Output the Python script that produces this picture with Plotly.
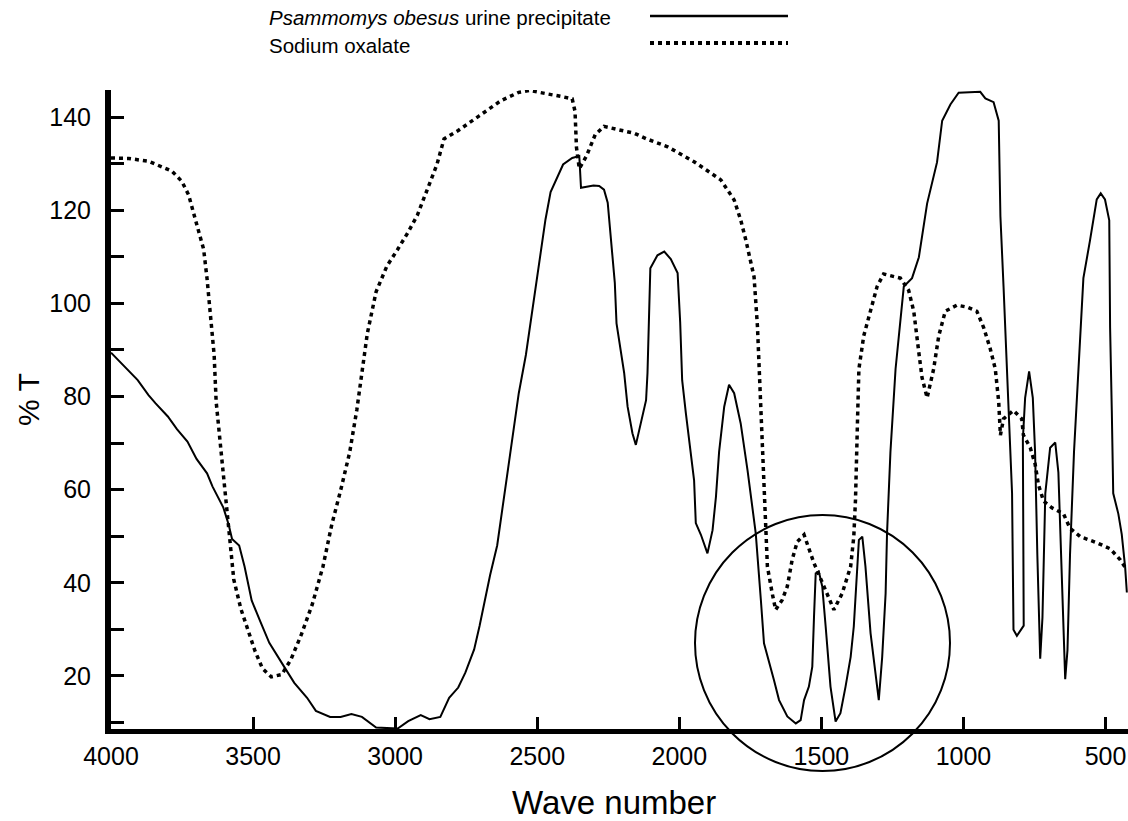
import plotly.graph_objects as go

# ---------------- data ----------------
psammomys_wn = [4000, 3956, 3906, 3868, 3843, 3800, 3768, 3731, 3699, 3662, 3643, 3605, 3586, 3574,
                3549, 3530, 3505, 3474, 3443, 3392, 3355, 3310, 3279, 3229, 3192, 3154, 3117, 3067,
                2991, 2954, 2910, 2879, 2841, 2810, 2778, 2753, 2722, 2703, 2666, 2641, 2616, 2591,
                2565, 2540, 2515, 2496, 2471, 2453, 2409, 2377, 2352, 2346, 2302, 2282, 2265, 2252,
                2240, 2227, 2221, 2194, 2182, 2165, 2153, 2141, 2129, 2117, 2112, 2102, 2077, 2053,
                2030, 2006, 1997, 1990, 1977, 1948, 1942, 1924, 1901, 1883, 1871, 1860, 1842, 1825,
                1807, 1784, 1760, 1743, 1731, 1713, 1702, 1667, 1649, 1620, 1590, 1573, 1561, 1544,
                1532, 1526, 1520, 1509, 1497, 1485, 1468, 1450, 1433, 1415, 1397, 1386, 1374, 1368,
                1356, 1345, 1327, 1309, 1298, 1286, 1274, 1269, 1257, 1239, 1210, 1181, 1157, 1128,
                1093, 1075, 1046, 1017, 941, 923, 894, 876, 870, 859, 841, 829, 824, 812,
                788, 792, 791, 783, 769, 756, 748, 740, 730, 722, 712, 695, 677, 666,
                654, 642, 634, 625, 611, 596, 578, 555, 531, 517, 502, 487, 484, 478,
                473, 455, 443, 431, 425]
psammomys_t = [89.4, 86.6, 83.5, 80.3, 78.5, 75.7, 73.0, 70.3, 66.6, 63.5, 60.7, 56.2, 52.5, 49.4,
               48.0, 43.5, 36.2, 31.6, 27.1, 22.1, 18.5, 15.3, 12.5, 11.2, 11.2, 11.8, 11.2, 8.9,
               8.7, 10.3, 11.6, 10.7, 11.2, 15.3, 17.5, 20.7, 25.7, 30.7, 41.6, 48.0, 58.9, 68.9,
               80.7, 88.9, 99.8, 107.1, 118.0, 123.9, 129.8, 131.2, 131.6, 124.8, 125.3, 125.2, 124.4, 121.6,
               113.0, 104.4, 95.7, 85.0, 77.8, 72.1, 69.6, 72.8, 76.4, 79.2, 85.0, 107.5, 110.3, 111.1,
               109.5, 106.5, 96.0, 83.5, 76.4, 62.0, 52.8, 50.3, 46.3, 51.3, 58.5, 68.1, 77.8, 82.5,
               80.7, 74.2, 64.2, 56.3, 50.6, 36.3, 27.0, 19.1, 14.8, 11.3, 9.8, 10.5, 14.8, 17.7,
               22.0, 32.7, 42.0, 42.4, 39.2, 30.6, 17.7, 10.2, 12.0, 17.7, 24.1, 30.6, 44.9, 49.2,
               49.9, 43.5, 29.2, 19.9, 14.8, 24.1, 37.7, 50.6, 68.1, 85.9, 103.6, 105.4, 109.9, 121.4,
               130.3, 139.2, 142.7, 145.2, 145.4, 144.0, 143.2, 139.2, 118.7, 103.6, 77.0, 59.2, 29.9, 28.6,
               30.8, 59.2, 70.8, 79.7, 85.4, 79.7, 68.1, 45.9, 23.7, 32.6, 59.2, 69.0, 70.1, 63.7,
               41.5, 19.3, 25.5, 46.1, 68.1, 85.9, 105.4, 113.4, 122.3, 123.6, 122.3, 117.8, 94.8, 77.0,
               59.2, 54.8, 50.4, 43.3, 37.9]

oxalate_wn = [4000, 3938, 3868, 3786, 3751, 3727, 3704, 3674, 3662, 3649, 3637, 3630, 3618, 3605,
              3593, 3580, 3568, 3543, 3518, 3493, 3467, 3436, 3399, 3367, 3330, 3292, 3254, 3223,
              3192, 3160, 3135, 3117, 3098, 3067, 3029, 2991, 2954, 2922, 2891, 2853, 2828, 2778,
              2703, 2628, 2565, 2528, 2415, 2377, 2367, 2362, 2352, 2327, 2296, 2265, 2202, 2158,
              2115, 2041, 1948, 1854, 1807, 1784, 1766, 1749, 1737, 1725, 1712, 1702, 1696, 1690,
              1673, 1661, 1638, 1620, 1603, 1585, 1561, 1526, 1491, 1456, 1427, 1397, 1386, 1380,
              1372, 1368, 1351, 1327, 1304, 1281, 1222, 1193, 1175, 1157, 1146, 1128, 1105, 1087,
              1064, 1023, 988, 953, 929, 906, 888, 876, 870, 859, 824, 795, 789, 765,
              748, 736, 718, 689, 648, 625, 589, 531, 484, 449, 431]
oxalate_t = [131.2, 131.1, 130.5, 128.4, 126.2, 123.3, 118.2, 111.6, 105.3, 97.1, 88.9, 78.9, 70.7, 63.5,
             56.2, 48.0, 40.7, 34.4, 29.8, 25.3, 21.6, 19.8, 20.3, 23.5, 28.9, 35.3, 43.5, 52.5,
             59.8, 68.0, 77.1, 85.3, 93.5, 102.5, 108.0, 111.6, 115.3, 118.9, 123.9, 129.8, 135.3, 137.1,
             140.3, 143.5, 145.3, 145.7, 144.4, 143.9, 141.2, 133.5, 128.9, 131.6, 136.2, 138.0, 137.1, 136.5,
             135.3, 133.6, 130.4, 126.5, 122.2, 117.9, 113.6, 108.6, 105.7, 95.0, 75.0, 57.8, 51.3, 43.5,
             37.7, 34.2, 36.3, 39.2, 44.9, 48.8, 50.3, 44.2, 39.2, 34.2, 37.7, 43.5, 49.9, 57.8,
             77.0, 85.9, 93.0, 98.3, 103.6, 106.3, 105.4, 102.8, 98.3, 89.4, 84.1, 79.7, 85.9, 93.0,
             98.3, 99.6, 99.2, 98.3, 94.8, 90.3, 85.9, 78.8, 71.7, 75.2, 77.0, 75.2, 71.7, 69.0,
             65.5, 61.0, 57.5, 56.1, 54.8, 51.7, 49.9, 48.6, 47.3, 45.0, 43.3]

series_names = ["<i>Psammomys obesus</i> urine precipitate", "Sodium oxalate"]
x_ticks = [4000, 3500, 3000, 2500, 2000, 1500, 1000, 500]
y_ticks = list(range(10, 150, 10))
y_ticklabels = [str(v) if v % 20 == 0 else "" for v in y_ticks]

# ---------------- layout geometry (page pixels) ----------------
W, H = 1128, 821
PLOT_LEFT, PLOT_TOP, PLOT_BOTTOM = 111, 90, 729
L, R, T, B = PLOT_LEFT, 0, PLOT_TOP, H - PLOT_BOTTOM
PW, PH = W - L - R, H - T - B
FONT = "Liberation Sans, Arial, sans-serif"


def px(x):
    return (x - PLOT_LEFT) / PW


def py(y):
    return (PLOT_BOTTOM - y) / PH


fig = go.Figure()
fig.add_trace(go.Scatter(x=psammomys_wn, y=psammomys_t, mode="lines",
                         line=dict(color="black", width=2), name=series_names[0],
                         showlegend=False))
fig.add_trace(go.Scatter(x=oxalate_wn, y=oxalate_t, mode="lines",
                         line=dict(color="black", width=3.5, dash="4px,4px"), name=series_names[1],
                         showlegend=False))

fig.update_layout(
    width=W, height=H,
    margin=dict(l=L, r=R, t=T, b=B, pad=0),
    paper_bgcolor="white", plot_bgcolor="white",
    font=dict(family=FONT, color="black", size=25),
    xaxis=dict(range=[4000, 421], tickvals=x_ticks, ticktext=[str(v) for v in x_ticks],
               ticks="inside", ticklen=12, tickwidth=3, tickcolor="black",
               showline=True, linewidth=5, linecolor="black",
               showgrid=False, zeroline=False, tickfont=dict(size=25, family=FONT),
               ticklabelstandoff=1, ticklabeloverflow="allow"),
    yaxis=dict(range=[8.6, 145.8], tickvals=y_ticks, ticktext=y_ticklabels,
               ticks="inside", ticklen=13, tickwidth=3, tickcolor="black",
               showline=True, linewidth=6, linecolor="black",
               showgrid=False, zeroline=False, tickfont=dict(size=25, family=FONT),
               ticklabelstandoff=9),
    showlegend=False,
)

annotations = [
    dict(text="% T", x=px(28), y=py(400), xref="paper", yref="paper", showarrow=False,
         textangle=-90, font=dict(size=30, family=FONT), xanchor="center", yanchor="middle"),
    dict(text="Wave number", x=px(614), y=py(802), xref="paper", yref="paper", showarrow=False,
         font=dict(size=33, family=FONT), xanchor="center", yanchor="middle"),
    dict(text=series_names[0], x=px(267), y=py(18), xref="paper", yref="paper", showarrow=False,
         font=dict(size=20.5, family=FONT), xanchor="left", yanchor="middle"),
    dict(text=series_names[1], x=px(267), y=py(45), xref="paper", yref="paper", showarrow=False,
         font=dict(size=20.5, family=FONT), xanchor="left", yanchor="middle"),
]
fig.update_layout(annotations=annotations)

shapes = [
    dict(type="line", xref="paper", yref="paper", x0=px(650), x1=px(788), y0=py(16), y1=py(16),
         line=dict(color="black", width=2.5)),
    dict(type="line", xref="paper", yref="paper", x0=px(650), x1=px(788), y0=py(43), y1=py(43),
         line=dict(color="black", width=4, dash="4px,4px")),
    dict(type="circle", xref="paper", yref="paper", x0=px(695), x1=px(950), y0=py(771), y1=py(515),
         line=dict(color="black", width=2)),
]
fig.update_layout(shapes=shapes)

# remove the default page margin so the 1128x821 figure fills the window exactly
fig.write_html("out.html",
               config={"displayModeBar": False},
               post_script="document.body.style.margin='0';document.body.style.overflow='hidden';")
